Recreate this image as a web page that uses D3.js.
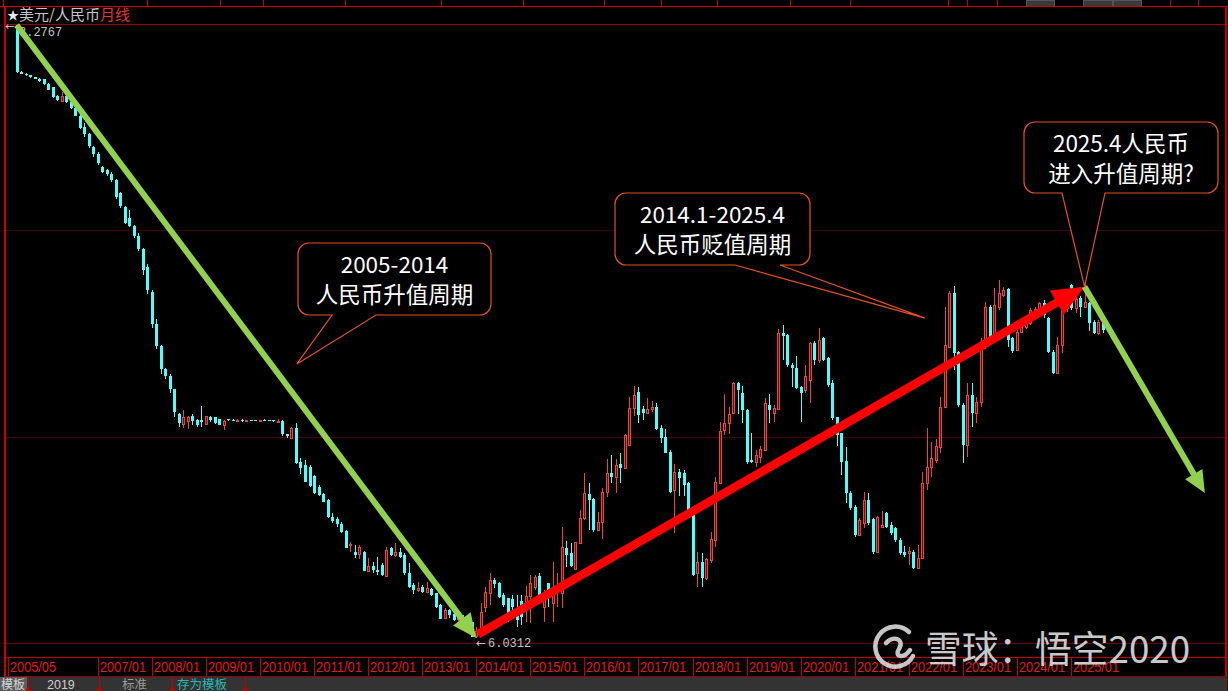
<!DOCTYPE html>
<html><head><meta charset="utf-8">
<script src="https://cdn.jsdelivr.net/npm/d3@7/dist/d3.min.js"></script>
<style>
html,body{margin:0;padding:0;background:#000;overflow:hidden}
svg{display:block}
</style></head><body>
<svg id="chart" width="1228" height="691"></svg>
<script>
// ---------------- DATA ----------------
const startMonth = "2005/07";          // month of the first candle
const priceMax = 8.2767, priceMin = 6.0312;
const openPrice = [
 8.2765,8.1040,8.0990,8.0920,8.0850,8.0800,
 8.0780,8.0610,8.0480,8.0180,8.0000,8.0150,7.9960,7.9730,7.9450,7.9040,7.8760,7.8300,
 7.8050,7.7560,7.7450,7.7320,7.7080,7.6600,7.6100,7.5700,7.5400,7.5050,7.4550,7.3900,
 7.3000,7.1800,7.1000,7.0150,6.9900,6.9450,6.8500,6.8150,6.8250,6.8450,6.8300,6.8300,
 6.8150,6.8420,6.8390,6.8330,6.8120,6.8330,6.8300,6.8280,6.8300,6.8260,6.8280,6.8290,
 6.8270,6.8300,6.8280,6.8280,6.8250,6.8270,6.7780,6.7650,6.8000,6.6760,6.6650,6.6580,
 6.6250,6.5840,6.5590,6.5370,6.4750,6.4680,6.4490,6.4230,6.3710,6.3460,6.3390,6.3460,
 6.2770,6.2950,6.2800,6.2990,6.2580,6.3610,6.3350,6.3470,6.3360,6.2690,6.2240,6.2060,
 6.2180,6.2000,6.2100,6.1950,6.1520,6.1050,6.1320,6.1200,6.1000,6.1090,6.0770,6.0880,
 6.0400,6.0610,6.1460,6.1973,6.2437,6.2315,6.1888,6.1765,6.1729,6.1338,6.1668,6.1460,
 6.1851,6.2193,6.2583,6.1460,6.2315,6.1583,6.2100,6.1948,6.3597,6.3413,6.2828,6.3805,
 6.4696,6.5587,6.5391,6.4269,6.4574,6.5672,6.6344,6.6222,6.6686,6.6527,6.7382,6.8725,
 6.9335,6.8689,6.8542,6.8689,6.8786,6.7993,6.7687,6.7138,6.5733,6.6405,6.6344,6.5978,
 6.5001,6.2681,6.3108,6.2498,6.3169,6.3902,6.5998,6.7932,6.8176,6.8542,6.9665,6.9300,
 6.8665,6.6833,6.6772,6.6955,6.7199,6.8847,6.8566,6.8688,7.1472,7.1411,7.0312,7.0190,
 6.9519,6.9400,6.9763,7.1106,7.0496,7.1289,7.0557,6.9642,6.8421,6.7810,6.6809,6.5637,
 6.5124,6.4086,6.4513,6.5368,6.4660,6.3476,6.4391,6.4904,6.4452,6.4330,6.3903,6.3476,
 6.3439,6.3476,6.2890,6.3232,6.5979,6.6589,6.6833,6.7322,6.8787,7.0985,7.2938,7.0802,
 6.8848,6.7383,6.9214,6.8543,6.8970,7.1050,7.2450,7.1351,7.2450,7.2877,7.3097,7.1290,
 7.0863,7.1534,7.1717,7.1839,7.2084,7.2328,7.2572,7.2023,7.0802,7.0033,7.1046,7.2389,
 7.3243,7.2389,7.2755,7.2450,7.2572,7.1900,7.1473,7.1900
];
const highPrice = [
 8.2767,8.1080,8.1000,8.0930,8.0870,8.0810,
 8.0800,8.0630,8.0500,8.0200,8.0300,8.0200,7.9990,7.9780,7.9530,7.9180,7.8800,7.8330,
 7.8120,7.7600,7.7500,7.7370,7.7130,7.6650,7.6120,7.6000,7.5450,7.5150,7.4600,7.4000,
 7.3050,7.2000,7.1050,7.0200,7.0000,6.9450,6.8560,6.8650,6.8450,6.8500,6.8350,6.8800,
 6.8450,6.8450,6.8420,6.8350,6.8300,6.8350,6.8320,6.8330,6.8320,6.8300,6.8300,6.8310,
 6.8310,6.8330,6.8300,6.8300,6.8330,6.8300,6.7800,6.8050,6.8200,6.6900,6.6830,6.6650,
 6.6300,6.5900,6.5620,6.5400,6.4890,6.4750,6.4550,6.4250,6.3830,6.3720,6.3720,6.3500,
 6.3240,6.3100,6.3280,6.3050,6.3650,6.3650,6.3790,6.3620,6.3430,6.3050,6.2320,6.2350,
 6.2250,6.2350,6.2150,6.1970,6.1550,6.1400,6.1380,6.1260,6.1260,6.1150,6.0860,6.0900,
 6.0700,6.1580,6.2190,6.2681,6.2498,6.2376,6.1949,6.1765,6.1888,6.1888,6.1888,6.2217,
 6.2620,6.2620,6.2681,6.2071,6.2315,6.3084,6.2680,6.4366,6.3866,6.3780,6.3841,6.5001,
 6.6344,6.5978,6.5428,6.4940,6.5795,6.6857,6.7016,6.6857,6.7101,6.7780,6.9152,6.9543,
 6.9494,6.8811,6.9091,6.9006,6.8908,6.8115,6.7956,6.7199,6.6686,6.6491,6.6466,6.6039,
 6.5025,6.3475,6.3438,6.3230,6.4208,6.6222,6.8237,6.9250,6.8762,6.9702,6.9702,6.9543,
 6.8700,6.7810,6.7199,6.7345,6.9091,6.9250,6.8847,7.1619,7.1778,7.1448,7.0373,7.0642,
 6.9550,7.0300,7.1167,7.1200,7.1655,7.1350,7.0600,6.9764,6.8421,6.7810,6.7322,6.5700,
 6.5180,6.4696,6.5673,6.5612,6.4697,6.4780,6.4977,6.4930,6.4575,6.4391,6.3964,6.3683,
 6.3659,6.3537,6.3720,6.6406,6.7993,6.7505,6.7591,6.9153,7.2450,7.3036,7.3207,7.0830,
 6.8909,6.9642,6.9666,6.9153,7.1300,7.2633,7.2511,7.3121,7.3427,7.3183,7.3121,7.1351,
 7.1595,7.1961,7.2084,7.2389,7.2450,7.2633,7.2694,7.2084,7.0863,7.1351,7.2572,7.2700,
 7.3280,7.2938,7.2841,7.3450,7.2633,7.1961,7.1961,7.1950
];
const lowPrice = [
 8.1000,8.0960,8.0900,8.0840,8.0780,8.0680,
 8.0580,8.0380,8.0080,7.9990,7.9950,7.9900,7.9700,7.9420,7.8950,7.8680,7.8260,7.7940,
 7.7640,7.7360,7.7240,7.7000,7.6400,7.6050,7.5480,7.5350,7.4950,7.4500,7.3600,7.2900,
 7.1650,7.0900,7.0000,6.9800,6.9300,6.8400,6.8050,6.8000,6.7980,6.8100,6.8050,6.8050,
 6.8100,6.8220,6.8150,6.8100,6.7930,6.8250,6.8260,6.8260,6.8240,6.8230,6.8250,6.8250,
 6.8250,6.8250,6.8250,6.8240,6.8230,6.7700,6.7650,6.7600,6.6680,6.6320,6.6020,6.5850,
 6.5600,6.5530,6.5280,6.4720,6.4540,6.4380,6.4160,6.3600,6.3460,6.3250,6.3200,6.2750,
 6.2740,6.2700,6.2620,6.2600,6.2570,6.3320,6.3280,6.3240,6.2620,6.2140,6.1920,6.1990,
 6.1970,6.1990,6.1860,6.1420,6.0990,6.1000,6.1060,6.0950,6.0940,6.0720,6.0530,6.0340,
 6.0312,6.0420,6.1277,6.1521,6.2132,6.1765,6.1460,6.0911,6.1033,6.0727,6.0789,6.0911,
 6.0850,6.2071,6.1583,6.0911,6.1460,6.0911,6.1460,6.1400,6.2925,6.2925,6.2803,6.3780,
 6.4635,6.4269,6.4208,6.4269,6.3927,6.5489,6.5978,6.5636,6.5978,6.6491,6.7382,6.8444,
 6.8176,6.8298,6.8518,6.8603,6.7932,6.7467,6.7077,6.5636,6.4171,6.5513,6.5513,6.4980,
 6.2600,6.2193,6.2193,6.2437,6.3047,6.3658,6.5978,6.7749,6.7785,6.8518,6.8518,6.8176,
 6.6700,6.6711,6.6588,6.6711,6.7174,6.8200,6.8237,6.8664,7.0496,7.0251,6.9519,6.9430,
 6.8237,6.9300,6.8933,7.0300,7.0400,7.0450,6.9520,6.8299,6.7346,6.6284,6.5246,6.5000,
 6.4020,6.4049,6.4330,6.4452,6.3390,6.3439,6.4330,6.4330,6.4086,6.3842,6.3354,6.3293,
 6.2987,6.2829,6.2870,6.3200,6.5735,6.6223,6.6711,6.7078,6.8760,7.0961,7.0130,6.8787,
 6.6736,6.6956,6.8030,6.8201,6.8787,7.0900,7.1290,7.1300,7.2328,7.2816,7.0985,7.0765,
 7.0840,7.1473,7.1620,7.1778,7.1961,7.2230,7.2023,7.0741,6.9984,7.0008,7.0741,7.2250,
 7.2328,7.2206,7.2084,7.2389,7.1559,7.1437,7.1400,7.1500
];
const closePrice = [
 8.1046,8.0990,8.0920,8.0850,8.0800,8.0700,
 8.0610,8.0400,8.0120,8.0010,8.0150,7.9960,7.9730,7.9450,7.9000,7.8760,7.8320,7.8050,
 7.7720,7.7400,7.7320,7.7080,7.6480,7.6140,7.5500,7.5400,7.5050,7.4550,7.3800,7.3050,
 7.1800,7.1000,7.0150,6.9900,6.9450,6.8600,6.8180,6.8420,6.8400,6.8250,6.8100,6.8220,
 6.8430,6.8280,6.8180,6.8120,6.8250,6.8280,6.8280,6.8300,6.8260,6.8280,6.8270,6.8270,
 6.8290,6.8270,6.8260,6.8250,6.8270,6.7800,6.7700,6.8000,6.6720,6.6550,6.6040,6.5880,
 6.5620,6.5550,6.5300,6.4750,6.4600,6.4490,6.4200,6.3610,6.3770,6.3360,6.3640,6.2770,
 6.2950,6.2800,6.2730,6.2620,6.3540,6.3360,6.3470,6.3280,6.2690,6.2180,6.2080,6.2130,
 6.1990,6.2140,6.1880,6.1440,6.1010,6.1320,6.1160,6.0980,6.1180,6.0740,6.0620,6.0360,
 6.0580,6.1270,6.2010,6.2437,6.2291,6.1827,6.1521,6.1094,6.1460,6.0972,6.1070,6.1863,
 6.2339,6.2559,6.1827,6.1827,6.1827,6.2000,6.2150,6.3658,6.3352,6.2950,6.3841,6.4696,
 6.5611,6.5367,6.4269,6.4574,6.5672,6.6344,6.6222,6.6650,6.6527,6.7748,6.8725,6.9213,
 6.8481,6.8542,6.8689,6.8786,6.7956,6.7626,6.7101,6.5672,6.6405,6.6161,6.5917,6.5001,
 6.2620,6.3108,6.2498,6.3194,6.3927,6.6039,6.7907,6.8176,6.8518,6.9641,6.9400,6.8650,
 6.6772,6.6760,6.7016,6.7223,6.8908,6.8664,6.8725,7.1472,7.1375,7.0312,7.0190,6.9458,
 6.9275,6.9900,7.1106,7.0496,7.1228,7.0496,6.9581,6.8360,6.7749,6.6772,6.5612,6.5063,
 6.4086,6.4635,6.5368,6.4513,6.3476,6.4750,6.4452,6.4391,6.4147,6.3903,6.3415,6.3354,
 6.3488,6.2890,6.3232,6.5979,6.6589,6.6894,6.7346,6.8787,7.1046,7.2938,7.0765,6.8848,
 6.7383,6.9214,6.8543,6.8970,7.1050,7.2450,7.1351,7.2511,7.2938,7.3060,7.1229,7.0838,
 7.1534,7.1717,7.2022,7.2328,7.2352,7.2572,7.2145,7.0802,7.0008,7.1046,7.2511,7.2633,
 7.2389,7.2719,7.2450,7.2633,7.1864,7.1473,7.1900,7.1595
];
const tickLabels = ["2005/05","2007/01","2008/01","2009/01","2010/01","2011/01","2012/01",
 "2013/01","2014/01","2015/01","2016/01","2017/01","2018/01","2019/01","2020/01","2021/01",
 "2022/01","2023/01","2024/01","2025/01"];
const titleMain = "美元/人民币", titlePeriod = "月线";
const highLabel = "8.2767", lowLabel = "6.0312";
// trend arrows: [monthIndex, price]
const trendArrows = [
  {from:[0, 8.2767], to:[102, 6.0312], color:"#92d050", width:6, head:[24,11]},
  {from:[102.4, 6.045], to:[237, 7.318], color:"#ff0000", width:8.5, head:[32,14]},
  {from:[237, 7.318], to:[263.7, 6.562], color:"#92d050", width:6, head:[22,10]}
];
const callouts = [
  {lines:["2005-2014","人民币升值周期"], tip:[62.2, 7.035]},
  {lines:["2014.1-2025.4","人民币贬值周期"], tip:[201.6, 7.203]},
  {lines:["2025.4人民币","进入升值周期?"], tip:[237, 7.318]}
];
const watermark = "雪球：悟空2020";
const bottomTabs = ["2019","标准","存为模板"];

// ---------------- LAYOUT ----------------
const W = 1228, H = 691;
const svg = d3.select("#chart");
const monthIdx = s => { const [yy,mm] = s.split("/").map(Number);
  const [y0,m0] = startMonth.split("/").map(Number); return (yy-y0)*12 + (mm-m0); };
const x = d3.scaleLinear().domain([-2, 270]).range([7.6, 7.6 + 272*4.506]);
const y = d3.scaleLinear().domain([priceMin, priceMax]).range([638, 25]);
const CJK = "'Noto Sans CJK SC','Noto Sans',sans-serif";
const MONO = "'Liberation Mono','DejaVu Sans Mono',monospace";

svg.append("rect").attr("width",W).attr("height",H).attr("fill","#000");

// top strip
const topG = svg.append("g").attr("shape-rendering","crispEdges");
[[1026,1054],[1083,1112],[1113,1141]].forEach(([a,b])=>{
  topG.append("rect").attr("x",a).attr("y",0).attr("width",b-a).attr("height",6)
    .attr("fill","#3a3a3a").attr("stroke","#555").attr("stroke-width",1);
});
[3,147,220,263,345,441,523,604,661,717,790,850,948,967,997,1170,1198].forEach(v=>{
  topG.append("line").attr("x1",v+0.5).attr("x2",v+0.5).attr("y1",0).attr("y2",6)
    .attr("stroke","#c00000");
});
topG.append("line").attr("x1",0).attr("x2",W).attr("y1",6.5).attr("y2",6.5)
  .attr("stroke","#c80000").attr("stroke-width",1.5);

// grid lines (plot divided in three)
const gTop = 24, gBot = 643;
const grid = svg.append("g").attr("shape-rendering","crispEdges");
const gridCols = ["#9a0000","#3c0000","#4a0000","#6a0000"];
d3.range(4).forEach(k=>{
  const gy = Math.round(gTop + k*(gBot-gTop)/3) + 0.5;
  grid.append("line").attr("x1",5).attr("x2",1226).attr("y1",gy).attr("y2",gy)
    .attr("stroke", gridCols[k]).attr("stroke-width",1);
});
// borders
grid.append("line").attr("x1",5).attr("x2",5).attr("y1",6).attr("y2",677)
  .attr("stroke","#d00000").attr("stroke-width",1.6);
grid.append("line").attr("x1",1226).attr("x2",1226).attr("y1",6).attr("y2",691)
  .attr("stroke","#c00000").attr("stroke-width",1.6);

// title
const title = svg.append("text").attr("x",7).attr("y",20).attr("font-family",CJK).attr("font-size",15);
title.append("tspan").attr("fill","#e8e8e8").attr("font-size",12).text("★");
title.append("tspan").attr("fill","#c4c4c4").text(titleMain);
title.append("tspan").attr("fill","#e03535").text(titlePeriod);

// candles
const data = openPrice.map((o,i)=>({i, o, h:highPrice[i], l:lowPrice[i], c:closePrice[i]}));
const cg = svg.append("g").attr("shape-rendering","crispEdges");
const UP = "#e8453f", DOWN = "#54fcfc";
data.forEach(d=>{
  const cx = Math.round(x(d.i));
  const up = d.c > d.o;
  const col = up ? UP : DOWN;
  const yh = Math.round(y(d.h)), yl = Math.round(y(d.l));
  cg.append("line").attr("x1",cx+0.5).attr("x2",cx+0.5).attr("y1",yh).attr("y2",Math.max(yl,yh+1))
    .attr("stroke",col).attr("stroke-width",1);
  if (up) {
    const yt = Math.round(y(d.c)), yb = Math.round(y(d.o));
    cg.append("rect").attr("x",cx-0.5).attr("y",yt+0.5).attr("width",2)
      .attr("height",Math.max(1,yb-yt)).attr("fill","#5a1414").attr("stroke",UP).attr("stroke-width",1);
  } else {
    const yt = Math.round(y(d.o)), yb = Math.round(y(d.c));
    cg.append("rect").attr("x",cx-1).attr("y",yt).attr("width",3)
      .attr("height",Math.max(1,yb-yt)).attr("fill",DOWN);
  }
});

// high / low labels
const ARW = "'DejaVu Sans','Liberation Sans',sans-serif";
svg.append("text").attr("x",5).attr("y",30).attr("font-family",ARW).attr("font-size",11)
  .attr("fill","#c0c0c0").text("←");
svg.append("text").attr("x",19).attr("y",36).attr("font-family",MONO).attr("font-size",12)
  .attr("fill","#c0c0c0").text(highLabel);

// arrows
const ag = svg.append("g");
function arrow(p1,p2,color,width,hl,hw){
  const x1=x(p1[0]), y1=y(p1[1]), x2=x(p2[0]), y2=y(p2[1]);
  const dx=x2-x1, dy=y2-y1, L=Math.hypot(dx,dy), ux=dx/L, uy=dy/L;
  const bx=x2-ux*hl, by=y2-uy*hl, px=-uy, py=ux;
  ag.append("line").attr("x1",x1).attr("y1",y1).attr("x2",bx+ux*2).attr("y2",by+uy*2)
    .attr("stroke",color).attr("stroke-width",width);
  ag.append("path").attr("d",`M${x2},${y2}L${bx+px*hw},${by+py*hw}L${bx-px*hw},${by-py*hw}Z`)
    .attr("fill",color);
}
trendArrows.forEach(a=>arrow(a.from,a.to,a.color,a.width,a.head[0],a.head[1]));

svg.append("text").attr("x",476).attr("y",647).attr("font-family",ARW).attr("font-size",12)
  .attr("fill","#c0c0c0").text("←");
svg.append("text").attr("x",488).attr("y",647).attr("font-family",MONO).attr("font-size",12)
  .attr("fill","#c0c0c0").text(lowLabel);

// callouts
const boxes = [
  {x0:298,y0:243,x1:491,y1:315,b1:332,b2:376},
  {x0:615,y0:193,x1:810,y1:265,b1:735,b2:780},
  {x0:1024,y0:122,x1:1218,y1:193,b1:1062,b2:1105}
];
function calloutPath(b,tx,ty){
  const r=11;
  return `M${b.x0+r},${b.y0}H${b.x1-r}A${r},${r} 0 0 1 ${b.x1},${b.y0+r}V${b.y1-r}`+
    `A${r},${r} 0 0 1 ${b.x1-r},${b.y1}H${b.b2}L${tx},${ty}L${b.b1},${b.y1}H${b.x0+r}`+
    `A${r},${r} 0 0 1 ${b.x0},${b.y1-r}V${b.y0+r}A${r},${r} 0 0 1 ${b.x0+r},${b.y0}Z`;
}
const cgl = svg.append("g");
callouts.forEach((c,k)=>{
  const b = boxes[k];
  cgl.append("path").attr("d",calloutPath(b, x(c.tip[0]), y(c.tip[1])))
    .attr("fill","#000").attr("stroke","#e2521f").attr("stroke-width",1.2);
  const cx = (b.x0+b.x1)/2, cy = (b.y0+b.y1)/2;
  c.lines.forEach((t,j)=>{
    cgl.append("text").attr("x",cx).attr("y",cy - 6 + j*30).attr("text-anchor","middle")
      .attr("font-family",CJK).attr("font-size",22.5).attr("fill","#fff").text(t);
  });
});

// x axis strip
const ax = svg.append("g").attr("shape-rendering","crispEdges");
ax.append("line").attr("x1",5).attr("x2",1226).attr("y1",657.5).attr("y2",657.5).attr("stroke","#c00000");
ax.append("line").attr("x1",5).attr("x2",1226).attr("y1",676.5).attr("y2",676.5).attr("stroke","#8a0000");
tickLabels.forEach(t=>{
  const tx = Math.round(x(monthIdx(t)));
  ax.append("line").attr("x1",tx+0.5).attr("x2",tx+0.5).attr("y1",657).attr("y2",676).attr("stroke","#c00000");
  ax.append("text").attr("x",tx+2).attr("y",672).attr("font-family","'Liberation Sans',Arial,sans-serif")
    .attr("font-size",15).attr("textLength",46).attr("lengthAdjust","spacingAndGlyphs")
    .attr("fill","#e21b1b").text(t);
});

// bottom tab bar
const bb = svg.append("g");
bb.append("rect").attr("x",0).attr("y",677).attr("width",1226).attr("height",14).attr("fill","#333");
bb.append("rect").attr("x",0).attr("y",677).attr("width",27).attr("height",14).attr("fill","#5e5e5e");
bb.append("text").attr("x",1).attr("y",688.5).attr("font-family",CJK).attr("font-size",12)
  .attr("fill","#d6d6d6").text("模板");
const tabX = [47,122,177], tabCol = ["#cfcfcf","#9a9a9a","#27b9b9"];
bottomTabs.forEach((t,k)=>{
  bb.append("text").attr("x",tabX[k]).attr("y",688.5)
    .attr("font-family", k===0 ? "'Liberation Sans',sans-serif" : CJK)
    .attr("font-size",12.5).attr("fill",tabCol[k]).text(t);
});
[28,99,172,245].forEach(v=>{
  bb.append("line").attr("x1",v+0.5).attr("x2",v+0.5).attr("y1",677).attr("y2",687).attr("stroke","#c00000");
  bb.append("path").attr("d",`M${v-3},691L${v+4},691L${v+0.5},686Z`).attr("fill","#c00000");
});

// watermark
const wm = svg.append("g").attr("opacity",0.85);
const lx = 895, ly = 647;
wm.append("path").attr("d",
  `M${lx+14},${ly-15} A20,20 0 1 0 ${lx+18},${ly+9}`)
  .attr("fill","none").attr("stroke","#e8e8e8").attr("stroke-width",4.5).attr("stroke-linecap","round");
wm.append("path").attr("d",
  `M${lx-9},${ly-4} C${lx-2},${ly-12} ${lx+10},${ly-8} ${lx+4},${ly+2} C${lx-1},${ly+9} ${lx+8},${ly+13} ${lx+15},${ly+3}`)
  .attr("fill","none").attr("stroke","#e8e8e8").attr("stroke-width",4.5).attr("stroke-linecap","round");
wm.append("text").attr("x",925).attr("y",663).attr("font-family",CJK).attr("font-size",37)
  .attr("textLength",265).attr("lengthAdjust","spacingAndGlyphs")
  .attr("fill","#ececec").text(watermark);
</script>
</body></html>
